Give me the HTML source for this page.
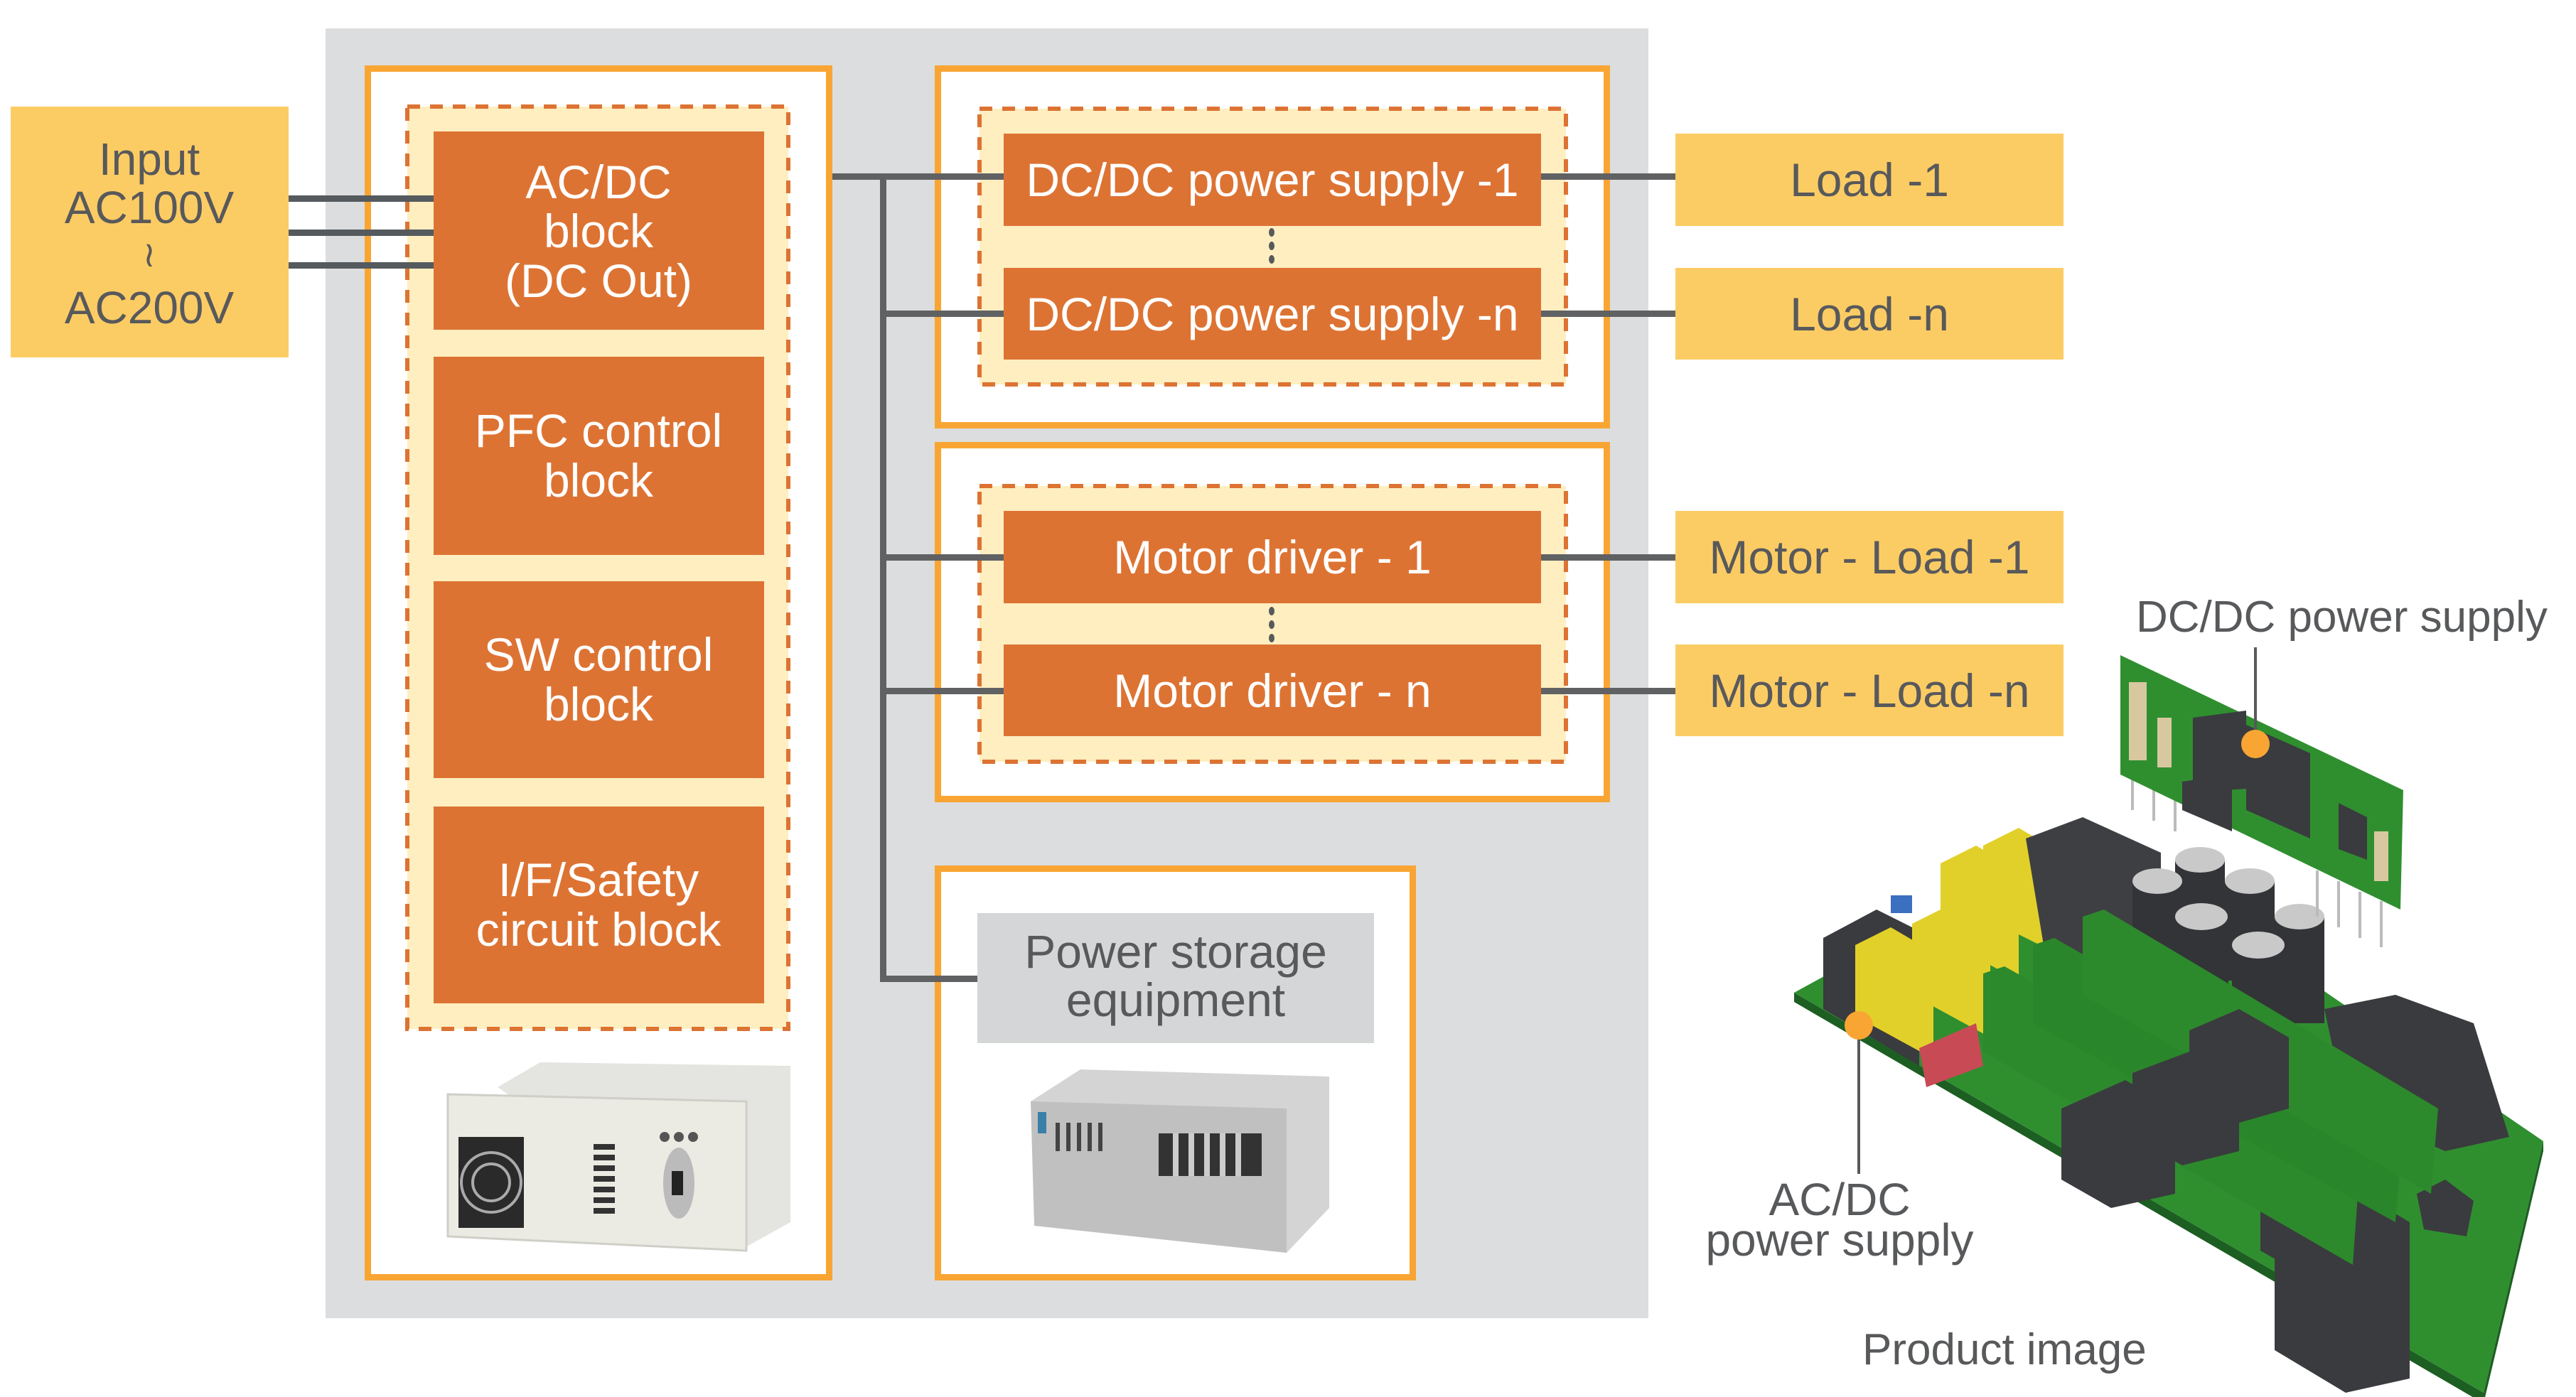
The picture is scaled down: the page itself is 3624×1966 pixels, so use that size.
<!DOCTYPE html>
<html><head><meta charset="utf-8"><style>
html,body{margin:0;padding:0;background:#fff}
svg{display:block}
text{font-family:"Liberation Sans",sans-serif}
</style></head><body>
<svg width="3624" height="1966" viewBox="0 0 3624 1966" xmlns="http://www.w3.org/2000/svg">
<rect width="3624" height="1966" fill="#fff"/>
<rect x="458" y="40" width="1861" height="1815" fill="#DCDDDE"/>
<rect x="15" y="150" width="391" height="353" fill="#FCCC64"/>
<g fill="#58595B" font-size="64" text-anchor="middle">
<text x="210" y="246">Input</text>
<text x="210" y="314">AC100V</text>
<text x="210" y="375" font-size="50">≀</text>
<text x="210" y="455">AC200V</text>
</g>
<rect x="517.5" y="96.5" width="649" height="1701" fill="#fff" stroke="#F9A533" stroke-width="9"/>
<rect x="573" y="150" width="536" height="1298" fill="#FFEEC0" stroke="#DD7333" stroke-width="6" stroke-dasharray="18 14"/>
<g fill="#555a5e"><rect x="406" y="275" width="204" height="9"/><rect x="406" y="323" width="204" height="9"/><rect x="406" y="369" width="204" height="9"/></g>
<g fill="#DD7333">
<rect x="610" y="185" width="465" height="279"/>
<rect x="610" y="502" width="465" height="279"/>
<rect x="610" y="818" width="465" height="277"/>
<rect x="610" y="1135" width="465" height="277"/>
</g>
<g fill="#fff" font-size="66" text-anchor="middle">
<text x="842" y="279">AC/DC</text><text x="842" y="348">block</text><text x="842" y="418">(DC Out)</text>
<text x="842" y="629">PFC control</text><text x="842" y="699">block</text>
<text x="842" y="944">SW control</text><text x="842" y="1014">block</text>
<text x="842" y="1261">I/F/Safety</text><text x="842" y="1331">circuit block</text>
</g>
<g>
<polygon points="700,1530 760,1495 1112,1500 1112,1720 1040,1760" fill="#e4e4e0"/>
<polygon points="630,1540 1050,1550 1050,1760 630,1740" fill="#ecebe3" stroke="#cfcfc8" stroke-width="3"/>
<rect x="645" y="1600" width="92" height="128" fill="#2a2a2a"/>
<circle cx="691" cy="1664" r="42" fill="none" stroke="#aaa" stroke-width="4"/>
<circle cx="691" cy="1664" r="26" fill="none" stroke="#aaa" stroke-width="4"/>
<g fill="#333"><rect x="835" y="1610" width="30" height="8"/><rect x="835" y="1625" width="30" height="8"/><rect x="835" y="1640" width="30" height="8"/><rect x="835" y="1655" width="30" height="8"/><rect x="835" y="1670" width="30" height="8"/><rect x="835" y="1685" width="30" height="8"/><rect x="835" y="1700" width="30" height="8"/></g>
<ellipse cx="955" cy="1665" rx="22" ry="50" fill="#bbb"/>
<rect x="945" y="1648" width="16" height="34" fill="#222"/>
<circle cx="935" cy="1600" r="7" fill="#555"/><circle cx="955" cy="1600" r="7" fill="#555"/><circle cx="975" cy="1600" r="7" fill="#555"/>
</g>
<rect x="1319.5" y="96.5" width="941" height="502" fill="#fff" stroke="#F9A533" stroke-width="9"/>
<rect x="1378" y="153" width="825" height="388" fill="#FFEEC0" stroke="#DD7333" stroke-width="6" stroke-dasharray="18 14"/>
<rect x="1319.5" y="626.5" width="941" height="498" fill="#fff" stroke="#F9A533" stroke-width="9"/>
<rect x="1378" y="684" width="825" height="388" fill="#FFEEC0" stroke="#DD7333" stroke-width="6" stroke-dasharray="18 14"/>
<rect x="1319.5" y="1222.5" width="668" height="575" fill="#fff" stroke="#F9A533" stroke-width="9"/>
<rect x="1375" y="1285" width="558" height="183" fill="#D5D6D8"/>
<g fill="#58595B" font-size="66" text-anchor="middle"><text x="1654" y="1362">Power storage</text><text x="1654" y="1430">equipment</text></g>
<g>
<polygon points="1450,1550 1520,1505 1870,1515 1870,1700 1810,1763" fill="#d4d4d4"/>
<polygon points="1450,1550 1810,1560 1810,1763 1455,1725" fill="#c0c0c0"/>
<rect x="1460" y="1565" width="12" height="30" fill="#3a7fa8"/>
<g fill="#444"><rect x="1485" y="1580" width="6" height="40"/><rect x="1500" y="1580" width="6" height="40"/><rect x="1515" y="1580" width="6" height="40"/><rect x="1530" y="1580" width="6" height="40"/><rect x="1545" y="1580" width="6" height="40"/></g>
<rect x="1630" y="1595" width="145" height="60" fill="#333"/>
<g fill="#ccc"><rect x="1650" y="1595" width="8" height="60"/><rect x="1672" y="1595" width="8" height="60"/><rect x="1694" y="1595" width="8" height="60"/><rect x="1716" y="1595" width="8" height="60"/><rect x="1738" y="1595" width="8" height="60"/></g>
</g>
<g fill="#DD7333">
<rect x="1412" y="188" width="756" height="130"/>
<rect x="1412" y="377" width="756" height="129"/>
<rect x="1412" y="719" width="756" height="130"/>
<rect x="1412" y="907" width="756" height="129"/>
</g>
<g fill="#fff" font-size="66" text-anchor="middle">
<text x="1790" y="276">DC/DC power supply -1</text>
<text x="1790" y="465">DC/DC power supply -n</text>
<text x="1790" y="807">Motor driver - 1</text>
<text x="1790" y="995">Motor driver - n</text>
</g>
<g fill="#58595B">
<ellipse cx="1789" cy="327" rx="4" ry="6"/><ellipse cx="1789" cy="346" rx="4" ry="6"/><ellipse cx="1789" cy="365" rx="4" ry="6"/>
<ellipse cx="1789" cy="860" rx="4" ry="6"/><ellipse cx="1789" cy="879" rx="4" ry="6"/><ellipse cx="1789" cy="898" rx="4" ry="6"/>
</g>
<g fill="#606163">
<rect x="1171" y="244" width="241" height="9"/>
<rect x="1238" y="244" width="9" height="1138"/>
<rect x="1238" y="437" width="174" height="9"/>
<rect x="1238" y="780" width="174" height="9"/>
<rect x="1238" y="968" width="174" height="9"/>
<rect x="1238" y="1373" width="137" height="9"/>
<rect x="2168" y="244" width="189" height="9"/>
<rect x="2168" y="437" width="189" height="9"/>
<rect x="2168" y="780" width="189" height="9"/>
<rect x="2168" y="968" width="189" height="9"/>
</g>
<g fill="#FCCC64">
<rect x="2357" y="188" width="546" height="130"/>
<rect x="2357" y="377" width="546" height="129"/>
<rect x="2357" y="719" width="546" height="130"/>
<rect x="2357" y="907" width="546" height="129"/>
</g>
<g fill="#58595B" font-size="66" text-anchor="middle">
<text x="2630" y="276">Load -1</text>
<text x="2630" y="465">Load -n</text>
<text x="2630" y="807">Motor - Load -1</text>
<text x="2630" y="995">Motor - Load -n</text>
</g>
<!-- PCB -->
<g>
<polygon points="2524,1397 3494,1960 3494,1975 2524,1410" fill="#1d5e22"/>
<polygon points="3494,1960 3578,1606 3578,1620 3494,1975" fill="#1d5e22"/>
<polygon points="2524,1397 2900,1190 3270,1395 3578,1606 3494,1960" fill="#2f8f2f"/>
<polygon points="2565,1320 2640,1280 2700,1310 2700,1500 2565,1420" fill="#3a3b3e"/>
<polygon points="2610,1330 2660,1305 2720,1340 2720,1490 2610,1430" fill="#e2d02a"/>
<polygon points="2690,1300 2740,1275 2800,1310 2800,1460 2690,1400" fill="#e2d02a"/>
<polygon points="2730,1215 2780,1190 2840,1225 2840,1380 2730,1320" fill="#e2d02a"/>
<polygon points="2790,1190 2840,1165 2890,1195 2890,1340 2790,1290" fill="#e2d02a"/>
<rect x="2660" y="1260" width="30" height="25" fill="#3b6fc0"/>
<polygon points="2700,1475 2780,1440 2790,1500 2710,1530" fill="#c84a55"/>
<polygon points="2850,1180 2930,1150 3040,1200 3040,1350 2880,1360" fill="#3e3f42"/>
<g fill="#333437">
<rect x="3000" y="1240" width="70" height="160"/><rect x="3060" y="1210" width="70" height="130"/>
<rect x="3060" y="1290" width="75" height="160"/><rect x="3130" y="1240" width="70" height="140"/>
<rect x="3140" y="1330" width="75" height="150"/><rect x="3200" y="1290" width="70" height="150"/>
</g>
<g fill="#c9c9c9">
<ellipse cx="3035" cy="1240" rx="35" ry="18"/><ellipse cx="3095" cy="1210" rx="35" ry="18"/>
<ellipse cx="3097" cy="1290" rx="37" ry="19"/><ellipse cx="3165" cy="1240" rx="35" ry="18"/>
<ellipse cx="3177" cy="1330" rx="37" ry="19"/><ellipse cx="3235" cy="1290" rx="35" ry="18"/>
</g>
<polygon points="3270,1420 3370,1400 3480,1440 3530,1600 3440,1620 3300,1560" fill="#3a3b3e"/>
<polygon points="3180,1660 3270,1640 3340,1680 3340,1780 3250,1800 3180,1760" fill="#3a3b3e"/>
<polygon points="3200,1700 3290,1660 3390,1720 3390,1940 3300,1960 3200,1900" fill="#3a3b3e"/>
<polygon points="3400,1680 3440,1660 3480,1690 3470,1740 3410,1730" fill="#3a3b3e"/>
<polygon points="2790,1370 2820,1360 3320,1640 3310,1780 2790,1480" fill="#2c8a2c"/>
<polygon points="2860,1330 2890,1320 3380,1600 3370,1720 2860,1440" fill="#2a862a"/>
<polygon points="2930,1290 2960,1280 3430,1560 3420,1680 2930,1400" fill="#2c8a2c"/>
<g fill="#3a3b3e">
<polygon points="2900,1560 2990,1520 3060,1560 3060,1680 2970,1700 2900,1660"/>
<polygon points="3000,1510 3080,1480 3150,1520 3150,1620 3070,1640 3000,1600"/>
<polygon points="3080,1450 3150,1420 3220,1460 3220,1560 3150,1580 3080,1540"/>
</g>
<!-- pins under dc/dc card -->
<g stroke="#bbb" stroke-width="4">
<line x1="3000" y1="1090" x2="3000" y2="1140"/><line x1="3030" y1="1105" x2="3030" y2="1155"/><line x1="3060" y1="1120" x2="3060" y2="1170"/>
<line x1="3260" y1="1225" x2="3260" y2="1290"/><line x1="3290" y1="1240" x2="3290" y2="1305"/><line x1="3320" y1="1255" x2="3320" y2="1320"/><line x1="3350" y1="1268" x2="3350" y2="1333"/>
</g>
<polygon points="2983,922 3381,1112 3377,1280 2983,1090" fill="#2f8f2f"/>
<g fill="#3a3b3e">
<polygon points="3085,1010 3160,1000 3160,1110 3085,1115"/>
<polygon points="3160,1020 3250,1060 3250,1180 3160,1140"/>
<polygon points="3070,1100 3140,1090 3140,1170 3070,1140"/>
<polygon points="3290,1130 3330,1150 3330,1210 3290,1195"/>
</g>
<g fill="#d8c8a0"><rect x="2995" y="960" width="25" height="110"/><rect x="3035" y="1010" width="20" height="70"/><rect x="3340" y="1170" width="20" height="70"/></g>
</g>
<rect x="3171" y="911" width="4" height="136" fill="#58595B"/>
<circle cx="3173" cy="1047" r="20" fill="#F9A533"/>
<rect x="2613" y="1443" width="4" height="209" fill="#58595B"/>
<circle cx="2615" cy="1443" r="20" fill="#F9A533"/>
<g fill="#58595B" font-size="62">
<text x="3005" y="889">DC/DC power supply</text>
<text x="2588" y="1710" text-anchor="middle" font-size="64">AC/DC</text>
<text x="2588" y="1767" text-anchor="middle" font-size="64">power supply</text>
<text x="2620" y="1920">Product image</text>
</g>
</svg>
</body></html>
